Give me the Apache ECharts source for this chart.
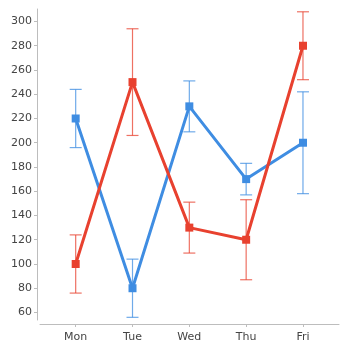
<!DOCTYPE html>
<html>
<head>
<meta charset="utf-8">
<script src="https://cdn.jsdelivr.net/npm/echarts@6/dist/echarts.min.js"></script>
<style>
  html, body { margin: 0; padding: 0; background: #fff; }
  #chart { width: 350px; height: 350px; }
</style>
</head>
<body>
<div id="chart"></div>
<script>
// Weekday categories and tick labels
const days = ['Mon', 'Tue', 'Wed', 'Thu', 'Fri'];
const yTicks = [60, 80, 100, 120, 140, 160, 180, 200, 220, 240, 260, 280, 300];

// Blue series: values with lower / upper error bounds
const blueValues = [220, 80, 230, 170, 200];
const blueLow = [196, 56, 209, 157, 158];
const blueHigh = [244, 104, 251, 183, 242];

// Red series: values with lower / upper error bounds
const redValues = [100, 250, 130, 120, 280];
const redLow = [76, 206, 109, 87, 252];
const redHigh = [124, 294, 151, 153, 308];

const BLUE = '#3f8de2';
const RED = '#e8412f';
const FONT = 'DejaVu Sans';

function lineSeries(values, color) {
  return {
    type: 'line',
    data: values.map((v, i) => [i, v]),
    symbol: 'rect',
    symbolSize: 8,
    lineStyle: { color: color, width: 3 },
    itemStyle: { color: color },
    z: 2
  };
}

function errorSeries(low, high, color) {
  return {
    type: 'custom',
    data: low.map((l, i) => [i, l, high[i]]),
    z: 3,
    renderItem: function (params, api) {
      const x = api.value(0);
      const lo = api.coord([x, api.value(1)]);
      const hi = api.coord([x, api.value(2)]);
      const half = 6;
      const style = { stroke: color, lineWidth: 1.2, opacity: 0.75 };
      return {
        type: 'group',
        children: [
          { type: 'line', shape: { x1: lo[0], y1: lo[1], x2: hi[0], y2: hi[1] }, style: style },
          { type: 'line', shape: { x1: lo[0] - half, y1: lo[1], x2: lo[0] + half, y2: lo[1] }, style: style },
          { type: 'line', shape: { x1: hi[0] - half, y1: hi[1], x2: hi[0] + half, y2: hi[1] }, style: style }
        ]
      };
    }
  };
}

const chart = echarts.init(document.getElementById('chart'), null, { renderer: 'canvas' });
chart.setOption({
  animation: false,
  grid: { left: 40, right: 11, top: 9, bottom: 30 },
  xAxis: {
    type: 'value',
    min: -0.628,
    max: 4.634,
    offset: 4,
    splitLine: { show: false },
    axisLine: { onZero: false, lineStyle: { color: '#bdbdbd', width: 1 } },
    axisTick: { show: true, length: 3, customValues: days.map((d, i) => i), lineStyle: { color: '#bdbdbd' } },
    axisLabel: {
      customValues: days.map((d, i) => i),
      formatter: v => days[Math.round(v)],
      color: '#444', fontFamily: FONT, fontSize: 11, margin: 8
    }
  },
  yAxis: {
    type: 'value',
    min: 53.8,
    max: 310.3,
    offset: 3,
    splitLine: { show: false },
    axisLine: { show: true, onZero: false, lineStyle: { color: '#bdbdbd', width: 1 } },
    axisTick: { show: true, length: 3, customValues: yTicks, lineStyle: { color: '#bdbdbd' } },
    axisLabel: {
      customValues: yTicks,
      color: '#444', fontFamily: FONT, fontSize: 11, margin: 5
    }
  },
  series: [
    lineSeries(blueValues, BLUE),
    lineSeries(redValues, RED),
    errorSeries(blueLow, blueHigh, BLUE),
    errorSeries(redLow, redHigh, RED)
  ]
});
</script>
</body>
</html>
